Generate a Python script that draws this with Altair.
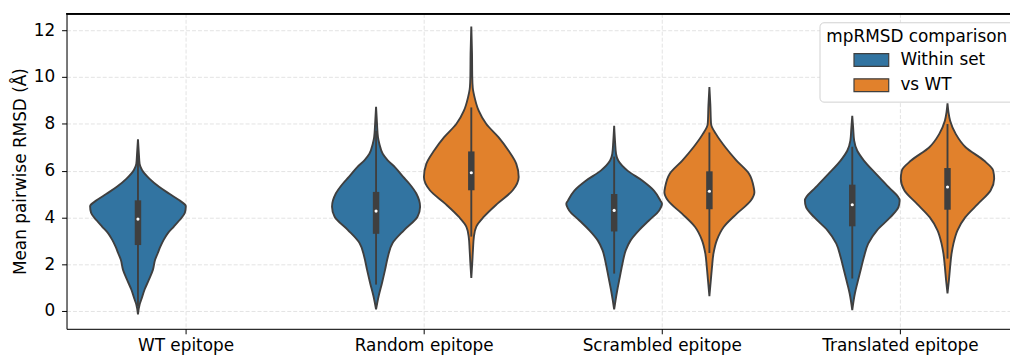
import json
import altair as alt
import pandas as pd

categories = ["WT epitope", "Random epitope", "Scrambled epitope", "Translated epitope"]
hues = ["Within set", "vs WT"]
palette = ["#3274a1", "#e1812c"]

# Violin outlines: RMSD value (Å) and half-width (fraction of one category slot)
wt_within_y = [7.34, 6.7, 6.29, 6.03, 5.65, 5.3, 5.01, 4.73, 4.48, 4.2, 3.88, 3.6, 3.32, 3.04, 2.75, 2.47, 2.19, 1.77, 1.34, 0.92, 0.49, 0.28, -0.14]
wt_within_w = [0, .004, .007, .017, .049, .090, .132, .174, .201, .197, .174, .150, .125, .108, .094, .083, .072, .063, .046, .028, .014, .007, 0]

random_within_y = [8.73, 8.0, 7.43, 7.14, 6.72, 6.44, 6.15, 5.73, 5.45, 5.02, 4.46, 4.03, 3.47, 2.9, 2.33, 1.77, 1.2, 0.64, 0.07]
random_within_w = [0, .004, .008, .014, .028, .049, .079, .114, .139, .169, .185, .174, .119, .069, .050, .038, .025, .011, 0]

random_vswt_y = [12.16, 11.0, 10.0, 9.55, 9.12, 8.56, 7.99, 7.43, 6.86, 6.29, 5.73, 5.16, 4.6, 4.03, 3.61, 3.18, 2.62, 2.05, 1.41]
random_vswt_w = [0, .003, .004, .006, .014, .031, .063, .114, .156, .189, .199, .174, .111, .053, .021, .011, .007, .004, 0]

scrambled_within_y = [7.91, 7.2, 6.71, 6.43, 6.0, 5.57, 5.15, 4.72, 4.58, 4.3, 3.87, 3.45, 3.02, 2.6, 2.03, 1.46, 0.89, 0.47, 0.07]
scrambled_within_w = [0, .004, .008, .017, .056, .119, .167, .194, .201, .189, .146, .104, .069, .049, .035, .024, .013, .006, 0]

scrambled_vswt_y = [9.57, 8.8, 7.99, 7.56, 7.0, 6.43, 5.86, 5.29, 5.08, 4.72, 4.16, 3.59, 3.02, 2.45, 1.89, 1.32, 0.64]
scrambled_vswt_w = [0, .004, .007, .028, .067, .114, .167, .186, .189, .174, .115, .060, .031, .017, .011, .006, 0]

translated_within_y = [8.34, 7.8, 7.28, 6.85, 6.43, 5.86, 5.29, 4.72, 4.44, 4.01, 3.45, 2.88, 2.31, 1.74, 1.18, 0.75, 0.04]
translated_within_w = [0, .004, .008, .021, .049, .100, .153, .199, .194, .160, .104, .067, .049, .035, .021, .011, 0]

translated_vswt_y = [8.87, 8.5, 8.13, 7.56, 7.0, 6.43, 6.0, 5.65, 5.15, 4.58, 4.01, 3.45, 2.88, 2.45, 1.89, 1.32, 0.75]
translated_vswt_w = [0, .004, .011, .035, .076, .153, .192, .196, .181, .128, .075, .042, .025, .017, .011, .006, 0]

violin_cat = ["WT epitope", "Random epitope", "Random epitope", "Scrambled epitope", "Scrambled epitope", "Translated epitope", "Translated epitope"]
violin_hue = ["Within set", "Within set", "vs WT", "Within set", "vs WT", "Within set", "vs WT"]
violin_y = [wt_within_y, random_within_y, random_vswt_y, scrambled_within_y, scrambled_vswt_y, translated_within_y, translated_vswt_y]
violin_w = [wt_within_w, random_within_w, random_vswt_w, scrambled_within_w, scrambled_vswt_w, translated_within_w, translated_vswt_w]

# Inner box statistics per violin
box_q1 = [2.82, 3.30, 5.16, 3.40, 4.35, 3.62, 4.33]
box_med = [3.93, 4.27, 5.91, 4.30, 5.12, 4.54, 5.30]
box_q3 = [4.73, 5.09, 6.82, 5.00, 5.97, 5.40, 6.11]
whisk_lo = [0.20, 1.13, 3.18, 1.60, 2.48, 1.39, 2.24]
whisk_hi = [7.00, 7.70, 8.70, 6.60, 7.63, 7.02, 7.99]

dodge = {hues[0]: -0.2, hues[1]: 0.2}

rows = []
for i, (c, h, ys, ws) in enumerate(zip(violin_cat, violin_hue, violin_y, violin_w)):
    for yv, wv in zip(ys, ws):
        rows.append({"vid": i, "cat": c, "hue": h, "pos": categories.index(c) + dodge[h], "y": yv, "hw": wv})
vdf = pd.DataFrame(rows)

bdf = pd.DataFrame({
    "vid": list(range(len(violin_cat))),
    "cat": violin_cat,
    "hue": violin_hue,
    "pos": [categories.index(c) + dodge[h] for c, h in zip(violin_cat, violin_hue)],
    "q1": box_q1, "med": box_med, "q3": box_q3, "lo": whisk_lo, "hi": whisk_hi,
})

FONT = "DejaVu Sans"
label_expr = json.dumps(categories) + "[datum.value]"
W, H = 951, 318

xscale = alt.Scale(domain=[-0.5, 3.4625], nice=False, zero=False)
yscale = alt.Scale(domain=[-0.76, 12.72], nice=False, zero=False)

xaxis = alt.Axis(values=[0, 1, 2, 3], labelExpr=label_expr, title=None, grid=True,
                 gridDash=[4, 2], gridColor="#e3e3e3", tickSize=5, labelPadding=4,
                 labelFontSize=17, labelFont=FONT, labelColor="#000000",
                 domainColor="#000000", tickColor="#000000", labelAngle=0)
yaxis = alt.Axis(values=[0, 2, 4, 6, 8, 10, 12], title="Mean pairwise RMSD (Å)", grid=True,
                 gridDash=[4, 2], gridColor="#e3e3e3", tickSize=5, labelPadding=7,
                 labelFontSize=17, labelFont=FONT, labelColor="#000000",
                 titleFontSize=17, titleFont=FONT, titleFontWeight="normal", titleColor="#000000",
                 titlePadding=4, domainColor="#000000", tickColor="#000000")

legend = alt.Legend(
    orient="none", legendX=759, legendY=9,
    title="mpRMSD comparison", titleFontSize=17, titleFont=FONT, titleFontWeight="normal",
    titleColor="#000000", titleAnchor="middle", titlePadding=4.5, titleLimit=400,
    labelFontSize=17, labelFont=FONT, labelColor="#000000", labelLimit=300,
    symbolType="M-2,-0.742H2V0.742H-2Z", symbolSize=306.25,
    symbolStrokeColor="#3f3f3f", symbolStrokeWidth=1.2, symbolOpacity=1,
    symbolOffset=13.75, labelOffset=19.75, rowPadding=6.5,
    fillColor="#ffffff", strokeColor="#d0d0d0", cornerRadius=4, padding=7,
)

violins = alt.Chart(vdf).transform_calculate(
    x0="datum.pos - datum.hw", x1="datum.pos + datum.hw"
).mark_area(orient="horizontal", interpolate="monotone", stroke="#3f3f3f",
            strokeWidth=1.9, opacity=1).encode(
    y=alt.Y("y:Q", scale=yscale, axis=yaxis),
    x=alt.X("x0:Q", scale=xscale, axis=xaxis, stack=False),
    x2="x1:Q",
    color=alt.Color("hue:N", scale=alt.Scale(domain=hues, range=palette), legend=legend),
    detail="vid:N",
)

whiskers = alt.Chart(bdf).mark_rule(color="#3f3f3f", strokeWidth=1.9).encode(
    x=alt.X("pos:Q", scale=xscale), y=alt.Y("lo:Q", scale=yscale), y2="hi:Q")
boxes = alt.Chart(bdf).mark_rule(color="#3f3f3f", strokeWidth=6.5, strokeCap="butt").encode(
    x=alt.X("pos:Q", scale=xscale), y=alt.Y("q1:Q", scale=yscale), y2="q3:Q")
medians = alt.Chart(bdf).mark_point(filled=True, color="#ffffff", size=10, opacity=1).encode(
    x=alt.X("pos:Q", scale=xscale), y=alt.Y("med:Q", scale=yscale))

# top spine (matplotlib frame)
top_spine = alt.Chart(bdf).mark_rule(color="#000000", strokeWidth=1).encode(
    x=alt.value(0), x2=alt.value(W), y=alt.value(0.5))

chart = alt.layer(violins, whiskers, boxes, medians, top_spine).properties(
    width=W, height=H,
    autosize=alt.AutoSizeParams(type="none"),
    padding={"left": 59, "top": 4, "right": 0, "bottom": 26},
).configure_view(strokeOpacity=0).configure(background="#ffffff")

chart.save("out.html", embed_options={"renderer": "svg", "actions": False})
